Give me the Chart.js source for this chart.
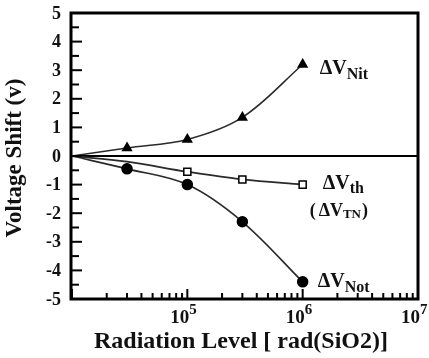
<!DOCTYPE html>
<html><head><meta charset="utf-8">
<script src="https://cdn.jsdelivr.net/npm/chart.js@4"></script>
<style>html,body{margin:0;padding:0;background:#fff}canvas{display:block}</style>
</head><body>
<canvas id="c" width="429" height="358"></canvas>
<script>
'use strict';
// dose points [rad(SiO2)] and voltage shifts [V]
const doses=[1e4,3e4,1e5,3e5,1e6];
const dVNit=[0,0.28,0.58,1.35,3.2];
const dVth=[0,-0.2,-0.55,-0.82,-1.0];
const dVNot=[0,-0.45,-1.0,-2.3,-4.4];
const markerOn=[0,5,5,5,5];
const markerTh=[0,0,5,5,5];
const yTicks=[5,4,3,2,1,0,-1,-2,-3,-4,-5];
const xDecades=[5,6,7];

const SERIF='"Liberation Serif","DejaVu Serif",serif';
const pts=vals=>doses.map((d,i)=>({x:d,y:vals[i]}));

function sub(ctx,x,y,main,s,f1,f2,dy){
  ctx.font=f1; ctx.fillText(main,x,y);
  const w=ctx.measureText(main).width;
  ctx.font=f2; ctx.fillText(s,x+w,y+dy);
  return x+w+ctx.measureText(s).width;
}

const frame={
  id:'frame',
  beforeDatasetsDraw(ch){
    const {ctx,chartArea:a,scales:{y}}=ch;
    const y0=y.getPixelForValue(0);
    ctx.save(); ctx.strokeStyle='#000'; ctx.lineWidth=2;
    ctx.beginPath(); ctx.moveTo(a.left,y0); ctx.lineTo(a.right,y0); ctx.stroke();
    ctx.restore();
  },
  afterDraw(ch){
    const {ctx,chartArea:a,scales:{x,y}}=ch;
    ctx.save();
    ctx.strokeStyle='#000'; ctx.fillStyle='#111';
    // y ticks, inside
    ctx.lineWidth=2;
    for(let v=-5;v<=5;v+=0.5){
      const py=y.getPixelForValue(v), len=Number.isInteger(v)?10:7;
      ctx.beginPath(); ctx.moveTo(a.left,py); ctx.lineTo(a.left+len,py); ctx.stroke();
    }
    // x ticks, inside
    for(let d=4;d<=6;d++){
      for(let m=1;m<=9;m++){
        const px=x.getPixelForValue(m*Math.pow(10,d)), len=m===1?10:6;
        ctx.beginPath(); ctx.moveTo(px,a.bottom); ctx.lineTo(px,a.bottom-len); ctx.stroke();
      }
    }
    // frame
    ctx.lineWidth=3;
    ctx.strokeRect(a.left-1,a.top,a.right-a.left+1,a.bottom-a.top);
    // y tick labels
    ctx.font='bold 18px '+SERIF; ctx.textAlign='right'; ctx.textBaseline='middle';
    yTicks.forEach(v=>ctx.fillText(String(v),61,y.getPixelForValue(v)+1));
    // x tick labels
    ctx.textAlign='left'; ctx.textBaseline='alphabetic';
    xDecades.forEach(d=>{
      const px=x.getPixelForValue(Math.pow(10,d));
      sub(ctx,px-17,323,'10',String(d),'bold 19px '+SERIF,'bold 15px '+SERIF,-9);
    });
    // axis titles
    ctx.font='bold 24px '+SERIF; ctx.textAlign='center';
    ctx.fillText('Radiation Level [ rad(SiO2)]',241,348);
    ctx.save(); ctx.translate(21,158); ctx.rotate(-Math.PI/2);
    ctx.font='bold 23px '+SERIF; ctx.fillText('Voltage Shift (v)',0,0);
    ctx.restore();
    // series labels next to the last points
    ctx.textAlign='left';
    const last=doses.length-1, lx=x.getPixelForValue(doses[last]);
    const f1='bold 20px '+SERIF, f2='bold 16px '+SERIF;
    sub(ctx,lx+17,y.getPixelForValue(dVNit[last])+10,'\u0394V','Nit',f1,f2,5);
    sub(ctx,lx+20,y.getPixelForValue(dVth[last])+4,'\u0394V','th',f1,f2,4);
    const yTN=y.getPixelForValue(dVth[last])+31;
    ctx.font='bold 18px '+SERIF; ctx.fillText('(',lx+7,yTN);
    const e=sub(ctx,lx+16,yTN,'\u0394V','TN','bold 18px '+SERIF,'bold 13px '+SERIF,2);
    ctx.font='bold 18px '+SERIF; ctx.fillText(')',e+1,yTN);
    sub(ctx,lx+15,y.getPixelForValue(dVNot[last])+5,'\u0394V','Not',f1,f2,5);
    ctx.restore();
  }
};

const line={borderColor:'#2a2a2a',borderWidth:1.6,tension:0.35,showLine:true,pointRadius:markerOn,pointBorderColor:'#000',pointBorderWidth:1.5};

new Chart(document.getElementById('c'),{
  type:'scatter',
  data:{datasets:[
    {...line,label:'dVNit',data:pts(dVNit),pointStyle:'triangle',pointBackgroundColor:'#000'},
    {...line,label:'dVth',data:pts(dVth),pointStyle:'rect',pointBackgroundColor:'#fff',borderWidth:1.8,pointRadius:markerTh},
    {...line,label:'dVNot',data:pts(dVNot),pointStyle:'circle',pointBackgroundColor:'#000'}
  ]},
  options:{
    responsive:false,animation:false,
    layout:{padding:{left:72,right:11,top:13,bottom:59}},
    plugins:{legend:{display:false},tooltip:{enabled:false}},
    scales:{
      x:{type:'logarithmic',min:1e4,max:1e7,display:false},
      y:{min:-5,max:5,display:false}
    }
  },
  plugins:[frame]
});
</script>
</body></html>
